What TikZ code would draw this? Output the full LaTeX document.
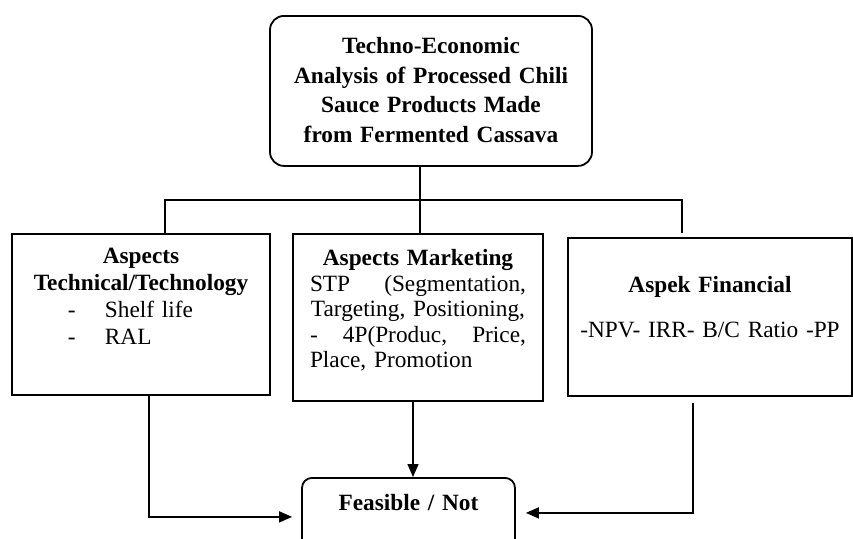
\documentclass[tikz,border=0pt]{standalone}
\usepackage{fontspec}
\setmainfont{Liberation Serif}
\usetikzlibrary{arrows.meta}

\begin{document}
\begin{tikzpicture}[x=0.5pt, y=-0.5pt,
                box/.style={draw, line width=0.9pt, inner sep=0pt, align=center}, % Plain boxes
                rbox/.style={box, rounded corners=7pt}, % Rounded boxes
                line/.style={line width=0.75pt}, % Connectors
                arrow/.style={line, -{Triangle[length=6.5pt, width=5.5pt]}} % Connectors with a tip
                ]
                \useasboundingbox (0,0) rectangle (853,538);
                \node[rbox, anchor=north, text width=161pt, text height=19pt, text depth=56pt,
                      font=\fontsize{11.65}{14.75}\selectfont\bfseries] (title) at (431,15)
                    {Techno-Economic\\ Analysis of Processed Chili\\ Sauce Products Made\\ from Fermented Cassava};
                \node[box, anchor=north, text width=129pt, text height=15pt, text depth=65.5pt,
                      font=\fontsize{11.65}{13.5}\selectfont] (tech) at (141,233)
                    {\textbf{Aspects}\\ \textbf{Technical/Technology}\\
                     \makebox[73pt][l]{-\hspace{14.6pt}Shelf life}\\ \makebox[73pt][l]{-\hspace{14.6pt}RAL}};
                \node[box, anchor=north, inner xsep=8.5pt, text width=108pt, text height=16pt, text depth=67.5pt,
                      font=\fontsize{11.65}{12.75}\selectfont] (mkt) at (418,233)
                    {\textbf{Aspects Marketing}\\ STP\hfill(Segmentation,\\ Targeting, Positioning,\\
                     -\hfill4P(Produc,\hfill Price,\\ Place, Promotion\hfill\mbox{}};
                \node[box, anchor=north, text width=142pt, text height=27.5pt, text depth=51.5pt,
                      font=\fontsize{11.65}{13.5}\selectfont] (fin) at (710,237)
                    {\textbf{Aspek Financial}\\[9pt] -NPV- IRR- B/C Ratio -PP};
                \node[rbox, rounded corners=5pt, anchor=north, text width=106.5pt, text height=16.5pt, text depth=20pt,
                      font=\fontsize{11.65}{13.5}\selectfont\bfseries] (feas) at (408.5,477)
                    {Feasible / Not};
                \coordinate (bus) at (420,200);
                \draw[line] (title.south -| bus) -- (bus);
                \draw[line] ([xshift=12pt]tech.north) |- (bus) -| ([xshift=-14pt, yshift=2pt]fin.north);
                \draw[line] (bus) -- (bus |- mkt.north);
                \draw[arrow] ([xshift=4pt]tech.south) |- ([xshift=-4.5pt, yshift=-1.25pt]feas.west);
                \draw[arrow] ([xshift=-2.5pt]mkt.south) -- ([xshift=-2.5pt]mkt.south |- feas.north);
                \draw[arrow] ([xshift=-8.5pt, yshift=-3pt]fin.south) |- ([xshift=5pt, yshift=0.75pt]feas.east);
            \end{tikzpicture}
\end{document}
